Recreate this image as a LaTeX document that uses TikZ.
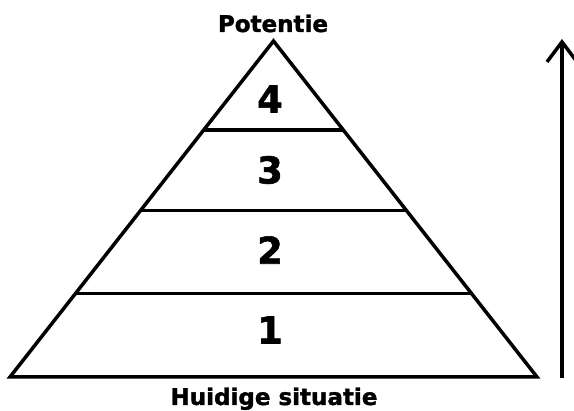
\documentclass[tikz,border=0pt]{standalone}
\usepackage{fontspec}
\setmainfont{DejaVu Sans}
\newfontfamily\heavyfont[FakeBold=1.5]{DejaVu Sans Bold}
\usetikzlibrary{arrows.meta}
\begin{document}
\begin{tikzpicture}[x=1pt,y=-1pt,
  edge/.style={line width=3.5pt,black},
  lbl/.style={font=\heavyfont\fontsize{23}{26}\selectfont,inner sep=0pt,anchor=base},
  num/.style={font=\heavyfont\fontsize{37}{40}\selectfont,inner sep=0pt}]
\useasboundingbox (0,0) rectangle (574,411);
\coordinate (A) at (273.5,41);
\coordinate (L) at (10,377);
\coordinate (R) at (537,377);
\draw[edge] (L) -- (A) -- (R) -- cycle;
\coordinate (l1) at (203.7,130); \coordinate (r1) at (343.3,130);
\coordinate (l2) at (141,210.5); \coordinate (r2) at (406,210.5);
\coordinate (l3) at (76,293.5); \coordinate (r3) at (471,293.5);
\draw[edge] (l1) -- (r1);
\draw[edge] (l2) -- (r2);
\draw[edge] (l3) -- (r3);
\node[num] (n4) at (270,99) {4};
\node[num] (n3) at (270,170) {3};
\node[num] (n2) at (270,250) {2};
\node[num] (n1) at (270,330) {1};
\node[lbl] (top) at (273,32) {Potentie};
\node[lbl] (bot) at (274,405) {Huidige situatie};
\coordinate (a0) at (562,378);
\coordinate (a1) at (562,39);
\draw[edge,-{Straight Barb[length=20pt,width=30pt]}] (a0) -- (a1);
\end{tikzpicture}
\end{document}
